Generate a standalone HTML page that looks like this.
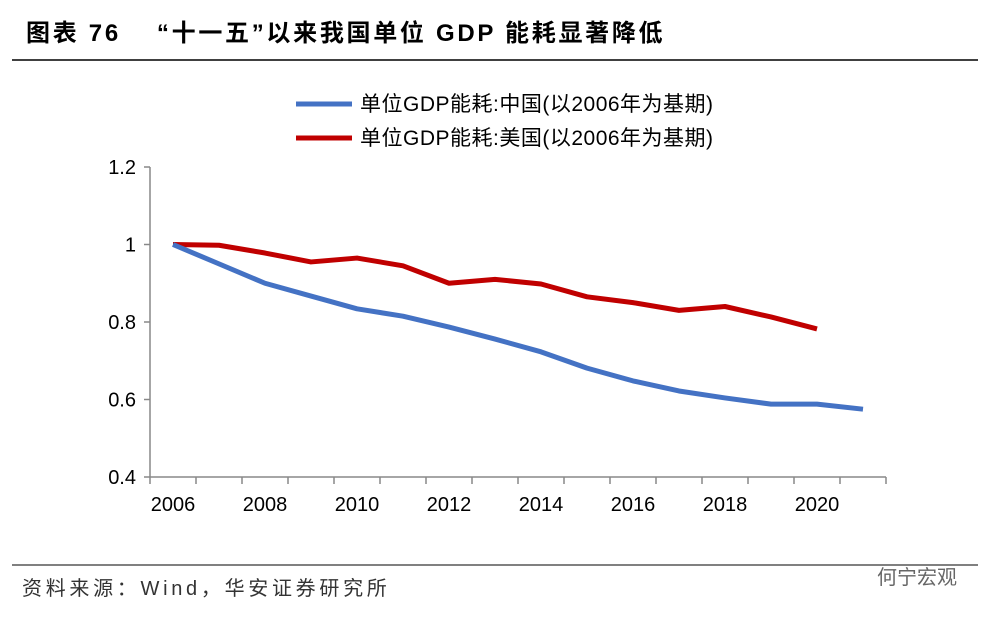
<!DOCTYPE html>
<html><head><meta charset="utf-8"><style>
body{margin:0;background:#fff;font-family:"Liberation Sans","Noto Sans CJK SC",sans-serif;}
#wrap{position:relative;width:1005px;height:620px;overflow:hidden;}
</style></head><body><div id="wrap">
<svg id="svg" width="1005" height="620">
<text x="26" y="41" font-size="24" letter-spacing="2.7" font-weight="bold" font-family="'Liberation Sans','Noto Sans CJK SC',sans-serif">图表 76　 “十一五”以来我国单位 GDP 能耗显著降低</text>
<line x1="12" y1="60" x2="978" y2="60" stroke="#000" stroke-width="1.5"/>
<line x1="12" y1="565" x2="978" y2="565" stroke="#000" stroke-width="1"/>
<text x="22" y="595" font-size="20" letter-spacing="3.7" fill="#333">资料来源：Wind，华安证券研究所</text>
<text x="877" y="584" font-size="20" fill="#666">何宁宏观</text>
<g>
<line x1="296" y1="104" x2="352" y2="104" stroke="#4472c4" stroke-width="5"/>
<text x="360" y="111" font-size="21" letter-spacing="0.5">单位GDP能耗:中国(以2006年为基期)</text>
<line x1="296" y1="138" x2="352" y2="138" stroke="#c00000" stroke-width="5"/>
<text x="360" y="145" font-size="21" letter-spacing="0.5">单位GDP能耗:美国(以2006年为基期)</text>
</g>
<g id="axes"></g><g id="marks"></g>
</svg></div>
<script>
const years=[2006,2007,2008,2009,2010,2011,2012,2013,2014,2015,2016,2017,2018,2019,2020,2021];
const china=[1.0,0.95,0.90,0.867,0.834,0.815,0.787,0.756,0.723,0.681,0.648,0.622,0.604,0.588,0.588,0.575];
const us=[1.0,0.998,0.978,0.955,0.965,0.945,0.90,0.91,0.898,0.865,0.85,0.83,0.84,0.813,0.782];
const yTicks=[0.4,0.6,0.8,1,1.2];
const xLabels=[2006,2008,2010,2012,2014,2016,2018,2020];
const NS="http://www.w3.org/2000/svg";
const x0=150,step=46,yBase=477,yTop=167,vMin=0.4,vMax=1.2;
const X=i=>x0+(i+0.5)*step;
const Y=v=>yBase-(v-vMin)/(vMax-vMin)*(yBase-yTop);
const ax=document.getElementById('axes'),mk=document.getElementById('marks');
function el(t,a,p){const e=document.createElementNS(NS,t);for(const k in a)e.setAttribute(k,a[k]);p.appendChild(e);return e;}
let e=el('line',{x1:x0,y1:yTop,x2:x0,y2:yBase,stroke:'#888','stroke-width':1.5},ax);


e=el('line',{x1:x0,y1:yBase,x2:x0+years.length*step,y2:yBase,stroke:'#888','stroke-width':1.5},ax);


yTicks.forEach(v=>{
 const t=el('line',{x1:x0-6,y1:Y(v),x2:x0,y2:Y(v),stroke:'#888','stroke-width':1.5},ax);
 
 
 const l=el('text',{x:x0-14,y:Y(v)+7,'font-size':20,'text-anchor':'end'},ax);l.textContent=String(v);
 
 
});
for(let i=0;i<=years.length;i++){
 const t=el('line',{x1:x0+i*step,y1:yBase,x2:x0+i*step,y2:yBase+7,stroke:'#888','stroke-width':1.5},ax);
 
 
}
xLabels.forEach(yr=>{
 const i=years.indexOf(yr);
 const l=el('text',{x:X(i),y:yBase+34,'font-size':20,'text-anchor':'middle'},ax);l.textContent=String(yr);
 
 
});
function line(d,c,n){const p=el('polyline',{points:d.map((v,i)=>X(i)+','+Y(v)).join(' '),fill:'none',stroke:c,'stroke-width':5,'stroke-linejoin':'round'},mk);
 
 }
line(us,'#c00000','series-us');
line(china,'#4472c4','series-china');
</script></body></html>
